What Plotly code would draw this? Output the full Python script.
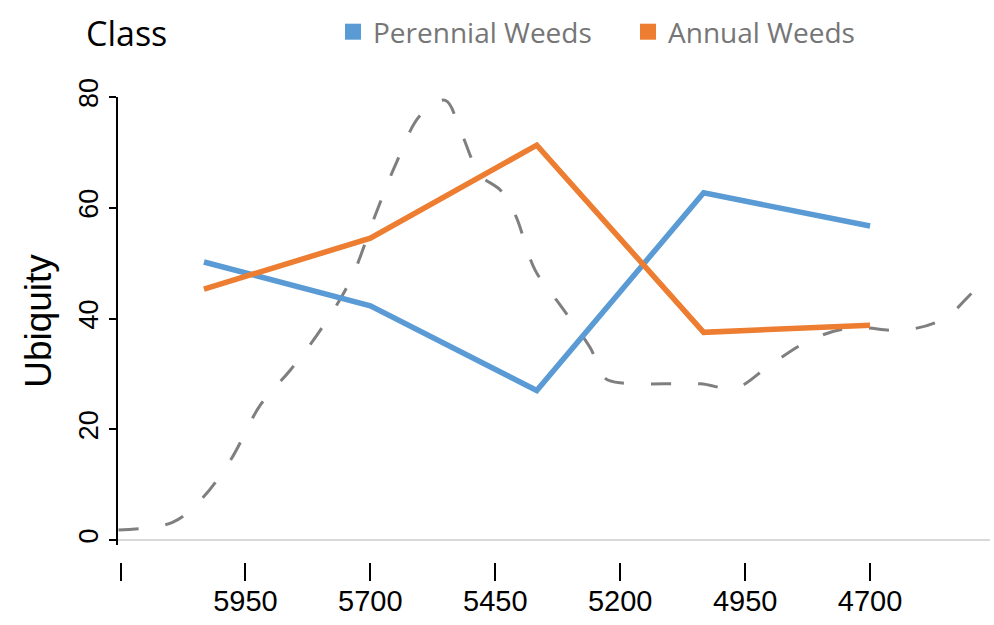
import plotly.graph_objects as go

# ---- data ----
years = [6033, 5700, 5367, 5033, 4700]
perennial = [50.2, 42.3, 27.0, 62.7, 56.7]
annual = [45.3, 54.5, 71.3, 37.5, 38.8]

curve_years = [6204, 6096, 6040, 5980, 5920, 5860, 5800, 5740, 5690, 5650, 5600,
               5550, 5520, 5480, 5440, 5410, 5370, 5320, 5260, 5230, 5190, 5040,
               4970, 4900, 4820, 4740, 4630, 4550, 4490, 4460]
curve_vals = [1.8, 3.2, 7.2, 14.4, 24.4, 30.7, 37.9, 46.9, 58.7, 67.7, 76.7,
              79.4, 74.0, 65.9, 63.2, 58.7, 48.7, 42.4, 34.7, 29.2, 28.3, 28.2,
              27.4, 31.6, 36.1, 38.3, 37.9, 40.1, 45.1, 46.9]

tick_vals = [6200, 5950, 5700, 5450, 5200, 4950, 4700]
tick_text = ["", "5950", "5700", "5450", "5200", "4950", "4700"]
y_ticks = [0, 20, 40, 60, 80]

BLUE = "#5b9bd5"
ORANGE = "#ed7d31"
GREY = "#7f7f7f"

fig = go.Figure()
fig.add_trace(go.Scatter(x=curve_years, y=curve_vals, mode="lines", line_shape="spline",
                         line=dict(color=GREY, width=3, dash="20px,27px"),
                         showlegend=False, hoverinfo="skip"))
fig.add_trace(go.Scatter(x=years, y=perennial, mode="lines",
                         line=dict(color=BLUE, width=5.5), showlegend=False))
fig.add_trace(go.Scatter(x=years, y=annual, mode="lines",
                         line=dict(color=ORANGE, width=5.5), showlegend=False))
# legend proxies (square swatches)
fig.add_trace(go.Scatter(x=[None], y=[None], mode="markers", name="Perennial Weeds",
                         marker=dict(symbol="square", size=18, color=BLUE)))
fig.add_trace(go.Scatter(x=[None], y=[None], mode="markers", name="Annual Weeds",
                         marker=dict(symbol="square", size=18, color=ORANGE)))

fig.update_layout(
    width=994, height=625,
    margin=dict(l=118, r=4, t=97, b=63, autoexpand=False),
    paper_bgcolor="#ffffff", plot_bgcolor="#ffffff",
    font=dict(family="Liberation Sans, Arial, sans-serif", color="#000000"),
    showlegend=True,
    legend=dict(orientation="h", x=(333 - 118) / 872, xanchor="left",
                y=1 + (97 - 32) / 465, yanchor="middle",
                font=dict(family="Open Sans", size=28, color="#767676"),
                entrywidth=250, bgcolor="rgba(0,0,0,0)", itemclick=False),
    annotations=[dict(text="Class", xref="paper", yref="paper",
                      x=(84 - 118) / 872, y=1 + (97 - 33) / 465,
                      xanchor="left", yanchor="middle", showarrow=False,
                      font=dict(family="Open Sans", size=34, color="#000000"))],
    xaxis=dict(range=[6205, 4460], anchor="free", position=0, automargin=False,
               showgrid=False, zeroline=False, showline=False,
               ticks="outside", ticklen=18, tickwidth=2, tickcolor="#000000",
               tickvals=tick_vals, ticktext=tick_text, ticklabelstandoff=-5,
               tickfont=dict(size=29, color="#000000")),
    yaxis=dict(range=[-0.9, 80], domain=[(562 - 545) / 465, 1], automargin=False,
               showgrid=False, zeroline=True, zerolinecolor="#d9d9d9", zerolinewidth=2,
               showline=True, linecolor="#000000", linewidth=2,
               ticks="outside", ticklen=7, tickwidth=2, tickcolor="#000000",
               tickvals=y_ticks, tickangle=-90,
               tickfont=dict(size=27, color="#000000"),
               title=dict(text="Ubiquity", font=dict(size=37, color="#000000"), standoff=11)),
)

fig.write_html("out.html", config={"displayModeBar": False},
               post_script="document.body.style.margin='0';document.body.style.padding='0';"
                           "document.body.style.overflow='hidden';")
